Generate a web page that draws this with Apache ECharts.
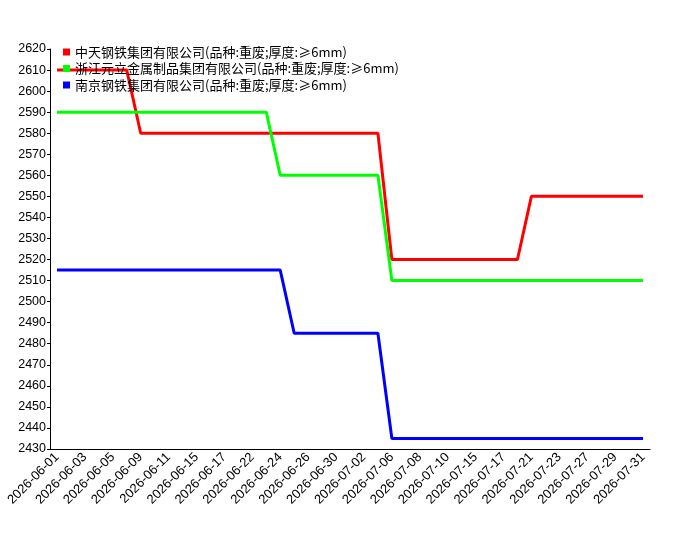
<!DOCTYPE html>
<html>
<head>
<meta charset="utf-8">
<script src="https://cdn.jsdelivr.net/npm/echarts@6/dist/echarts.min.js"></script>
<style>
  html, body { margin: 0; padding: 0; background: #fff; }
  #chart { width: 700px; height: 550px; }
</style>
</head>
<body>
<div id="chart"></div>
<script>
// trading days shown on the x axis
const dates = [
  '2026-06-01', '2026-06-02', '2026-06-03', '2026-06-04', '2026-06-05',
  '2026-06-08', '2026-06-09', '2026-06-10', '2026-06-11', '2026-06-12',
  '2026-06-15', '2026-06-16', '2026-06-17', '2026-06-18', '2026-06-22',
  '2026-06-23', '2026-06-24', '2026-06-25', '2026-06-26', '2026-06-29',
  '2026-06-30', '2026-07-01', '2026-07-02', '2026-07-03', '2026-07-06',
  '2026-07-07', '2026-07-08', '2026-07-09', '2026-07-10', '2026-07-14',
  '2026-07-15', '2026-07-16', '2026-07-17', '2026-07-20', '2026-07-21',
  '2026-07-22', '2026-07-23', '2026-07-24', '2026-07-27', '2026-07-28',
  '2026-07-29', '2026-07-30', '2026-07-31'
];

const seriesNames = [
  '中天钢铁集团有限公司(品种:重废;厚度:≥6mm)',
  '浙江元立金属制品集团有限公司(品种:重废;厚度:≥6mm)',
  '南京钢铁集团有限公司(品种:重废;厚度:≥6mm)'
];

const zhongtian = [
  2610, 2610, 2610, 2610, 2610, 2610, 2580, 2580, 2580, 2580,
  2580, 2580, 2580, 2580, 2580, 2580, 2580, 2580, 2580, 2580,
  2580, 2580, 2580, 2580, 2520, 2520, 2520, 2520, 2520, 2520,
  2520, 2520, 2520, 2520, 2550, 2550, 2550, 2550, 2550, 2550,
  2550, 2550, 2550
];

const yuanli = [
  2590, 2590, 2590, 2590, 2590, 2590, 2590, 2590, 2590, 2590,
  2590, 2590, 2590, 2590, 2590, 2590, 2560, 2560, 2560, 2560,
  2560, 2560, 2560, 2560, 2510, 2510, 2510, 2510, 2510, 2510,
  2510, 2510, 2510, 2510, 2510, 2510, 2510, 2510, 2510, 2510,
  2510, 2510, 2510
];

const nangang = [
  2515, 2515, 2515, 2515, 2515, 2515, 2515, 2515, 2515, 2515,
  2515, 2515, 2515, 2515, 2515, 2515, 2515, 2485, 2485, 2485,
  2485, 2485, 2485, 2485, 2435, 2435, 2435, 2435, 2435, 2435,
  2435, 2435, 2435, 2435, 2435, 2435, 2435, 2435, 2435, 2435,
  2435, 2435, 2435
];

const colors = ['#ff0000', '#00ff00', '#0000ff'];
const values = [zhongtian, yuanli, nangang];

const chart = echarts.init(document.getElementById('chart'));

chart.setOption({
  animation: false,
  color: colors,
  grid: { left: 50, right: 50, top: 49, bottom: 101 },
  legend: {
    orient: 'vertical',
    left: 58,
    top: 40,
    itemWidth: 7,
    itemHeight: 7,
    itemGap: 2.5,
    icon: 'rect',
    data: seriesNames,
    textStyle: {
      fontFamily: 'Noto Sans CJK SC',
      fontSize: 13,
      color: '#000',
      lineHeight: 14
    }
  },
  xAxis: {
    type: 'category',
    data: dates,
    boundaryGap: true,
    axisLine: { lineStyle: { color: '#000', width: 1 } },
    axisTick: { alignWithLabel: true, interval: 0, length: 4, lineStyle: { color: '#000' } },
    axisLabel: {
      interval: 1,
      rotate: 45,
      color: '#000',
      fontFamily: 'Liberation Sans',
      fontSize: 13,
      margin: 6
    },
    splitLine: { show: false }
  },
  yAxis: {
    type: 'value',
    min: 2430,
    max: 2620,
    interval: 10,
    axisLine: { show: true, lineStyle: { color: '#000', width: 1 } },
    axisTick: { show: true, length: 3, lineStyle: { color: '#000' } },
    axisLabel: {
      color: '#000',
      fontFamily: 'Liberation Sans',
      fontSize: 12.5,
      margin: 4,
      formatter: v => String(v)
    },
    splitLine: { show: false }
  },
  series: seriesNames.map((name, i) => ({
    name: name,
    type: 'line',
    data: values[i],
    showSymbol: false,
    symbol: 'none',
    lineStyle: { width: 3, color: colors[i] },
    itemStyle: { color: colors[i] }
  }))
});
</script>
</body>
</html>
